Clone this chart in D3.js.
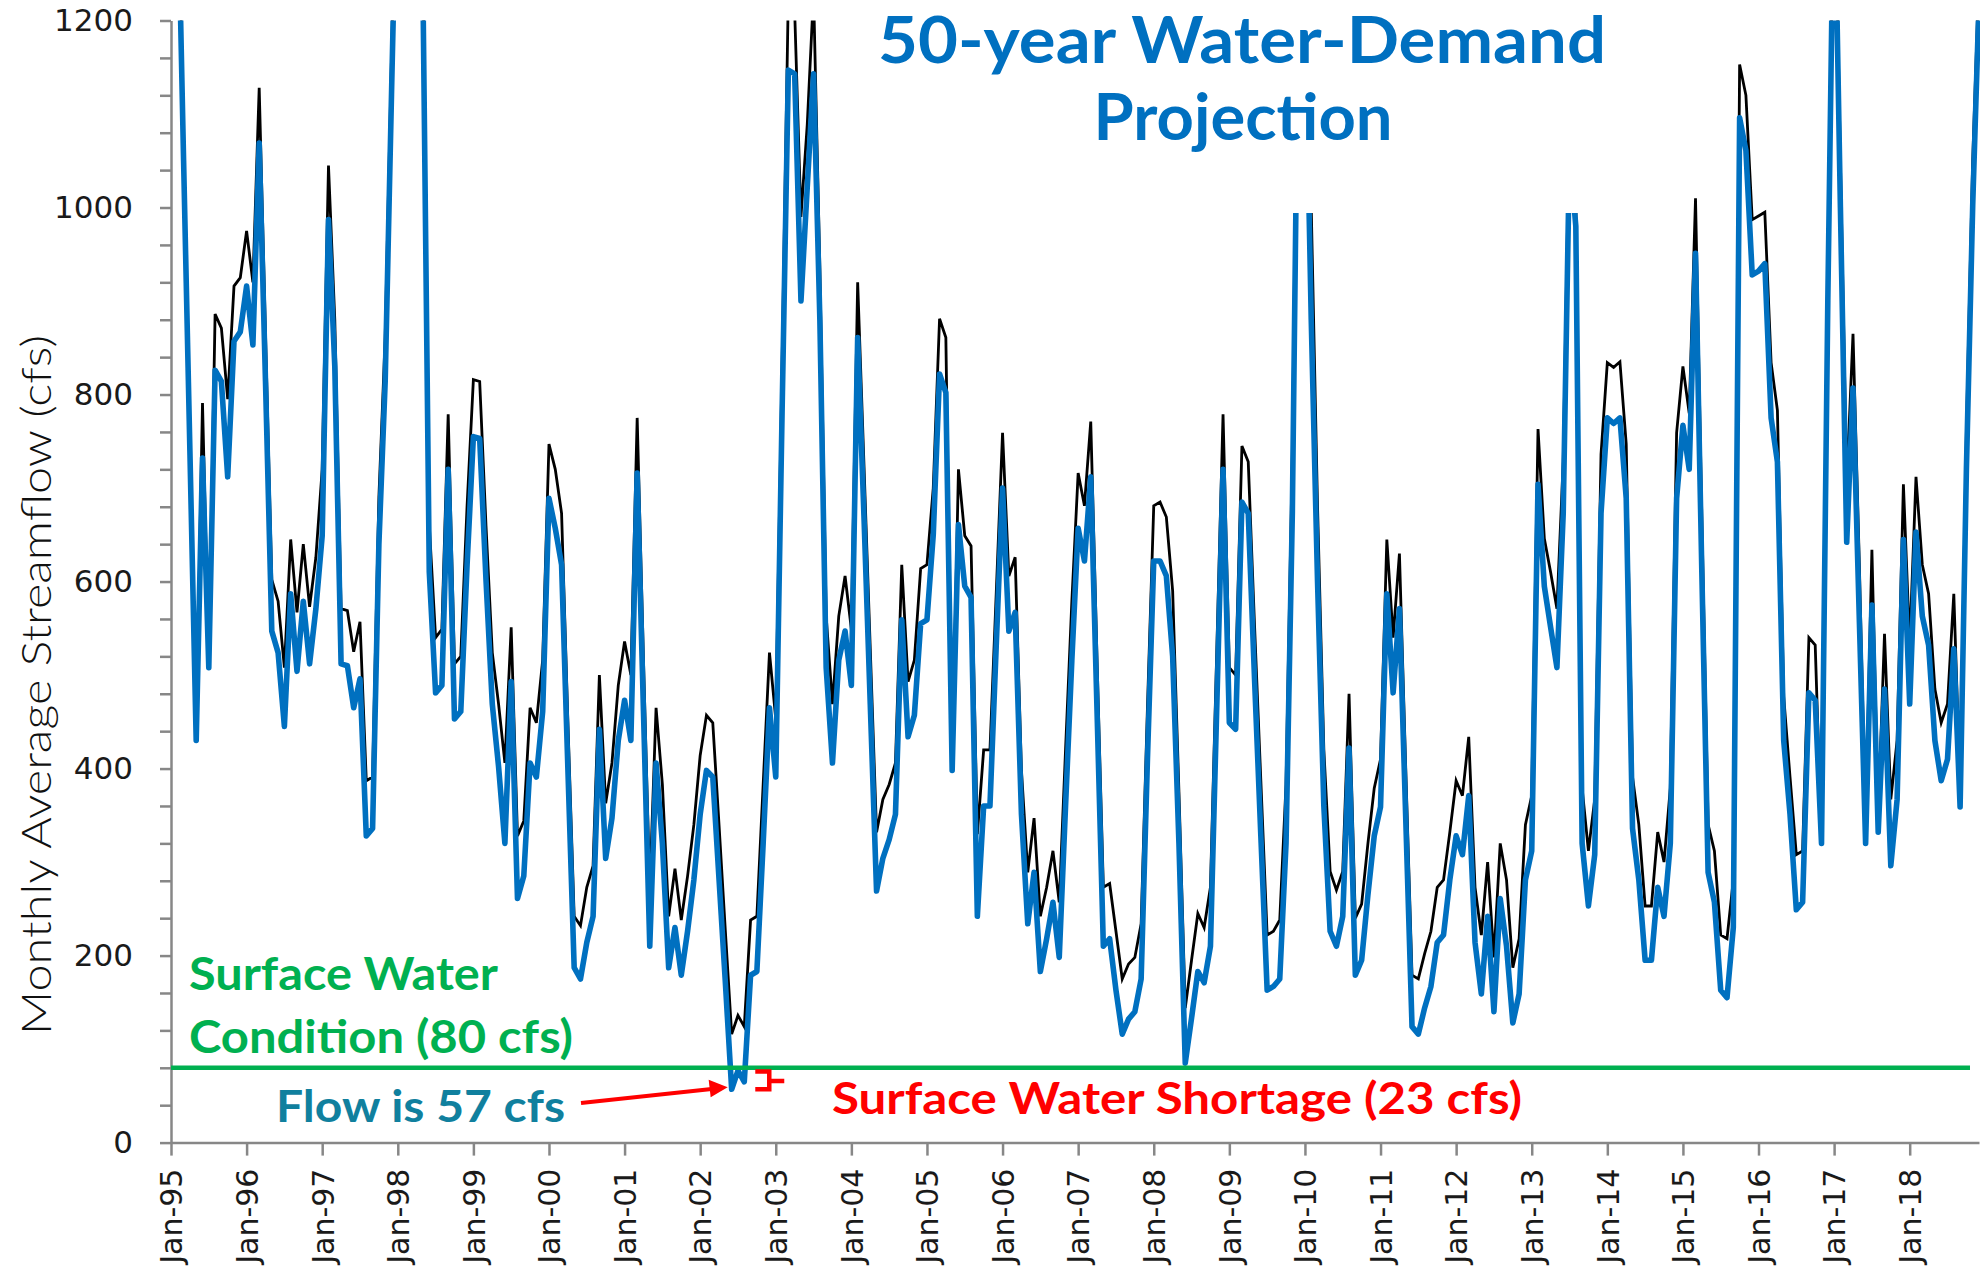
<!DOCTYPE html>
<html>
<head>
<meta charset="utf-8">
<script src="https://cdn.jsdelivr.net/npm/d3@7"></script>
<style>
  body { margin: 0; background: #fff; }
  svg { display: block; }
  .axis path, .axis line { stroke: #878787; stroke-width: 2.5; }
  .axis text { font-family: "DejaVu Sans", sans-serif; font-size: 31px; fill: #1a1a1a; }
</style>
</head>
<body>
<div id="chart"></div>
<script>
// monthly average streamflow, Jan-95 .. Dec-18 (cfs)
// values above 1200 run off the top of the plot and are clipped
var baseline = [
  1700, 1390, 1070, 760, 435, 791, 512, 886, 871, 795, 916, 925,
  975, 920, 1128, 865, 602, 579, 508, 645, 567, 640, 573, 626,
  720, 1045, 880, 571, 569, 525, 557, 387, 391, 690, 861, 1160,
  1450, 1700, 1650, 1450, 1260, 660, 540, 549, 779, 512, 520, 681,
  816, 814, 660, 524, 469, 406, 551, 328, 344, 465, 449, 516,
  747, 720, 673, 450, 242, 232, 273, 296, 500, 363, 406, 489,
  536, 500, 775, 516, 270, 465, 383, 242, 293, 238, 285, 340,
  414, 457, 449, 339, 226, 116, 136, 124, 238, 242, 383, 524,
  453, 830, 1230, 1210, 990, 1089, 1230, 935, 563, 469, 563, 606,
  549, 920, 725, 528, 332, 367, 383, 406, 618, 493, 516, 614,
  618, 700, 881, 861, 400, 720, 649, 638, 330, 420, 420, 588,
  759, 606, 626, 398, 289, 347, 242, 273, 312, 257, 420, 579,
  716, 681, 771, 516, 273, 277, 226, 175, 191, 198, 234, 465,
  681, 685, 669, 590, 375, 144, 195, 245, 230, 273, 524, 779,
  508, 500, 745, 728, 553, 387, 222, 226, 238, 383, 736, 1300,
  1250, 1000, 680, 420, 290, 270, 290, 480, 240, 255, 320, 379,
  410, 645, 540, 630, 400, 179, 175, 202, 226, 273, 281, 332,
  387, 371, 434, 273, 222, 300, 198, 320, 281, 187, 218, 340,
  371, 763, 646, 610, 571, 728, 1100, 1010, 379, 312, 367, 736,
  834, 829, 835, 747, 391, 340, 253, 253, 332, 300, 379, 759,
  830, 780, 1010, 670, 340, 312, 222, 218, 281, 1153, 1120, 987,
  991, 995, 834, 783, 477, 391, 308, 312, 540, 532, 320, 920,
  1400, 1050, 704, 865, 620, 340, 634, 350, 544, 367, 430, 704,
  532, 712, 618, 587, 485, 449, 469, 587, 380, 760, 1050, 1250
];

var projected = [
  1650, 1370, 1050, 740, 430, 732, 508, 826, 814, 712, 857, 867,
  916, 853, 1069, 814, 547, 524, 445, 587, 504, 579, 512, 571,
  649, 987, 830, 512, 510, 465, 496, 328, 336, 640, 814, 1120,
  1420, 1680, 1620, 1420, 1230, 610, 481, 489, 720, 453, 461, 618,
  755, 753, 602, 469, 402, 320, 493, 261, 285, 406, 391, 461,
  689, 657, 618, 400, 187, 175, 214, 242, 442, 304, 347, 430,
  473, 430, 716, 461, 210, 406, 320, 187, 230, 179, 226, 281,
  351, 398, 391, 281, 171, 57, 77, 65, 179, 183, 320, 465,
  391, 780, 1147, 1143, 900, 1022, 1143, 880, 508, 406, 516, 547,
  489, 861, 670, 469, 269, 304, 324, 351, 559, 434, 457, 555,
  559, 650, 822, 802, 398, 661, 595, 583, 242, 360, 360, 532,
  700, 547, 567, 351, 234, 289, 183, 218, 257, 198, 360, 516,
  657, 622, 712, 461, 210, 218, 163, 116, 132, 140, 175, 410,
  622, 622, 606, 520, 320, 85, 133, 183, 171, 210, 465, 720,
  449, 442, 685, 673, 496, 328, 163, 167, 175, 320, 673, 1250,
  1220, 880, 600, 360, 226, 210, 242, 422, 179, 195, 265, 328,
  359, 587, 481, 571, 347, 124, 116, 144, 167, 214, 222, 281,
  328, 308, 371, 214, 159, 242, 140, 261, 210, 128, 159, 281,
  312, 704, 595, 551, 508, 673, 1060, 980, 320, 253, 308, 673,
  775, 769, 775, 689, 336, 281, 195, 195, 273, 242, 320, 689,
  767, 720, 951, 611, 289, 257, 163, 155, 230, 1096, 1061, 928,
  932, 940, 775, 728, 430, 351, 249, 257, 481, 473, 320, 900,
  1380, 1000, 642, 807, 560, 320, 575, 332, 485, 296, 367, 645,
  469, 653, 563, 532, 430, 387, 410, 528, 359, 720, 1002, 1220
];

var conditionFlow = 80;
var lowFlow = 57;
var yTicks = d3.range(0, 1201, 40);
var yLabels = [0, 200, 400, 600, 800, 1000, 1200];

var months = d3.timeMonth.range(new Date(1995, 0, 1), new Date(2019, 0, 1));
var fmt = d3.timeFormat("%b-%y");
var monthLabels = months.map(fmt);
var janLabels = months.filter(function(d) { return d.getMonth() === 0; }).map(fmt);

var width = 1980, height = 1277;
var margin = {top: 20.5, right: 1, bottom: 134.4, left: 171};

var svg = d3.select("#chart")
  .append("svg")
  .attr("width", width)
  .attr("height", height);

var xScale = d3.scalePoint()
  .domain(monthLabels)
  .range([margin.left, width - margin.right]);

var yScale = d3.scaleLinear()
  .domain([0, 1200])
  .range([height - margin.bottom, margin.top]);

// clip lines at the top of the plot
svg.append("defs").append("clipPath")
  .attr("id", "plot-clip")
  .append("rect")
  .attr("x", margin.left - 10)
  .attr("y", margin.top)
  .attr("width", width - margin.left + 10)
  .attr("height", height - margin.bottom - margin.top + 10);

// draw axes
var yAxis = svg.append("g")
  .attr("class", "axis")
  .attr("transform", "translate(" + margin.left + ",0)")
  .call(d3.axisLeft(yScale)
    .tickValues(yTicks)
    .tickSize(11)
    .tickSizeOuter(0)
    .tickPadding(27)
    .tickFormat(function(d) { return yLabels.indexOf(d) >= 0 ? d : ""; }));

var xAxis = svg.append("g")
  .attr("class", "axis")
  .attr("transform", "translate(0," + yScale(0) + ")")
  .call(d3.axisBottom(xScale)
    .tickValues(janLabels)
    .tickSize(13)
    .tickSizeOuter(0));

xAxis.selectAll("text")
  .attr("transform", "rotate(-90)")
  .attr("text-anchor", "end")
  .attr("x", -26)
  .attr("y", 0)
  .attr("dy", "0.36em")
  .style("font-size", "30px");

// draw lines
var line = d3.line()
  .x(function(d, i) { return xScale(monthLabels[i]); })
  .y(function(d) { return yScale(d); });

var plot = svg.append("g").attr("clip-path", "url(#plot-clip)");

plot.append("path")
  .datum(baseline)
  .attr("fill", "none")
  .attr("stroke", "#000")
  .attr("stroke-width", 2.8)
  .attr("d", line);

plot.append("path")
  .datum(projected)
  .attr("fill", "none")
  .attr("stroke", "#0070C0")
  .attr("stroke-width", 5.6)
  .attr("stroke-linejoin", "round")
  .attr("d", line);

// surface water condition line
svg.append("line")
  .attr("x1", margin.left)
  .attr("x2", width - 10)
  .attr("y1", yScale(conditionFlow))
  .attr("y2", yScale(conditionFlow))
  .attr("stroke", "#00B050")
  .attr("stroke-width", 4.5);

// title box (white, hides the lines behind it)
svg.append("rect")
  .attr("x", 866)
  .attr("y", 0)
  .attr("width", 754)
  .attr("height", 213)
  .attr("fill", "#fff");

function label(txt, x, y, size, color, len, anchor) {
  svg.append("text")
    .attr("x", x)
    .attr("y", y)
    .attr("text-anchor", anchor || "start")
    .attr("textLength", len)
    .attr("lengthAdjust", "spacingAndGlyphs")
    .style("font-family", "Lato, 'DejaVu Sans', sans-serif")
    .style("font-weight", "bold")
    .style("font-size", size + "px")
    .style("fill", color)
    .text(txt);
}

label("50-year Water-Demand", 1242, 63, 65, "#0070C0", 728, "middle");
label("Projection", 1243, 140, 65, "#0070C0", 299, "middle");

label("Surface Water", 189, 990, 46, "#00B050", 309);
label("Condition (80 cfs)", 189, 1053, 46, "#00B050", 384);
label("Flow is 57 cfs", 276, 1122, 43, "#10809E", 289);
label("Surface Water Shortage (23 cfs)", 832, 1114, 44, "#FF0000", 690);

// arrow pointing at the low flow
var lowX = xScale(monthLabels[89]);
var tipX = lowX - 4, tipY = yScale(lowFlow) - 2;
svg.append("line")
  .attr("x1", 581)
  .attr("y1", 1103)
  .attr("x2", tipX - 16)
  .attr("y2", tipY + 1.6)
  .attr("stroke", "#FF0000")
  .attr("stroke-width", 4);
svg.append("path")
  .attr("d", "M" + tipX + "," + tipY +
    "L" + (tipX - 19) + "," + (tipY - 7.5) +
    "L" + (tipX - 17) + "," + (tipY + 10) + "Z")
  .attr("fill", "#FF0000");

// shortage bracket between 57 and 80 cfs
var bx = xScale(monthLabels[91]) + 11;
svg.append("path")
  .attr("d", "M" + bx + "," + yScale(76) +
    "H" + (bx + 14) + "V" + yScale(lowFlow) + "H" + bx +
    "M" + (bx + 14) + "," + yScale(66) + "H" + (bx + 29))
  .attr("fill", "none")
  .attr("stroke", "#FF0000")
  .attr("stroke-width", 4.5);

// y axis title
svg.append("text")
  .attr("transform", "translate(51," + 685 + ") rotate(-90)")
  .attr("text-anchor", "middle")
  .attr("textLength", 700)
  .attr("lengthAdjust", "spacingAndGlyphs")
  .style("font-family", "Lato, 'DejaVu Sans', sans-serif")
  .style("font-weight", 300)
  .style("font-size", "42px")
  .style("fill", "#111")
  .text("Monthly Average Streamflow (cfs)");
</script>
</body>
</html>
